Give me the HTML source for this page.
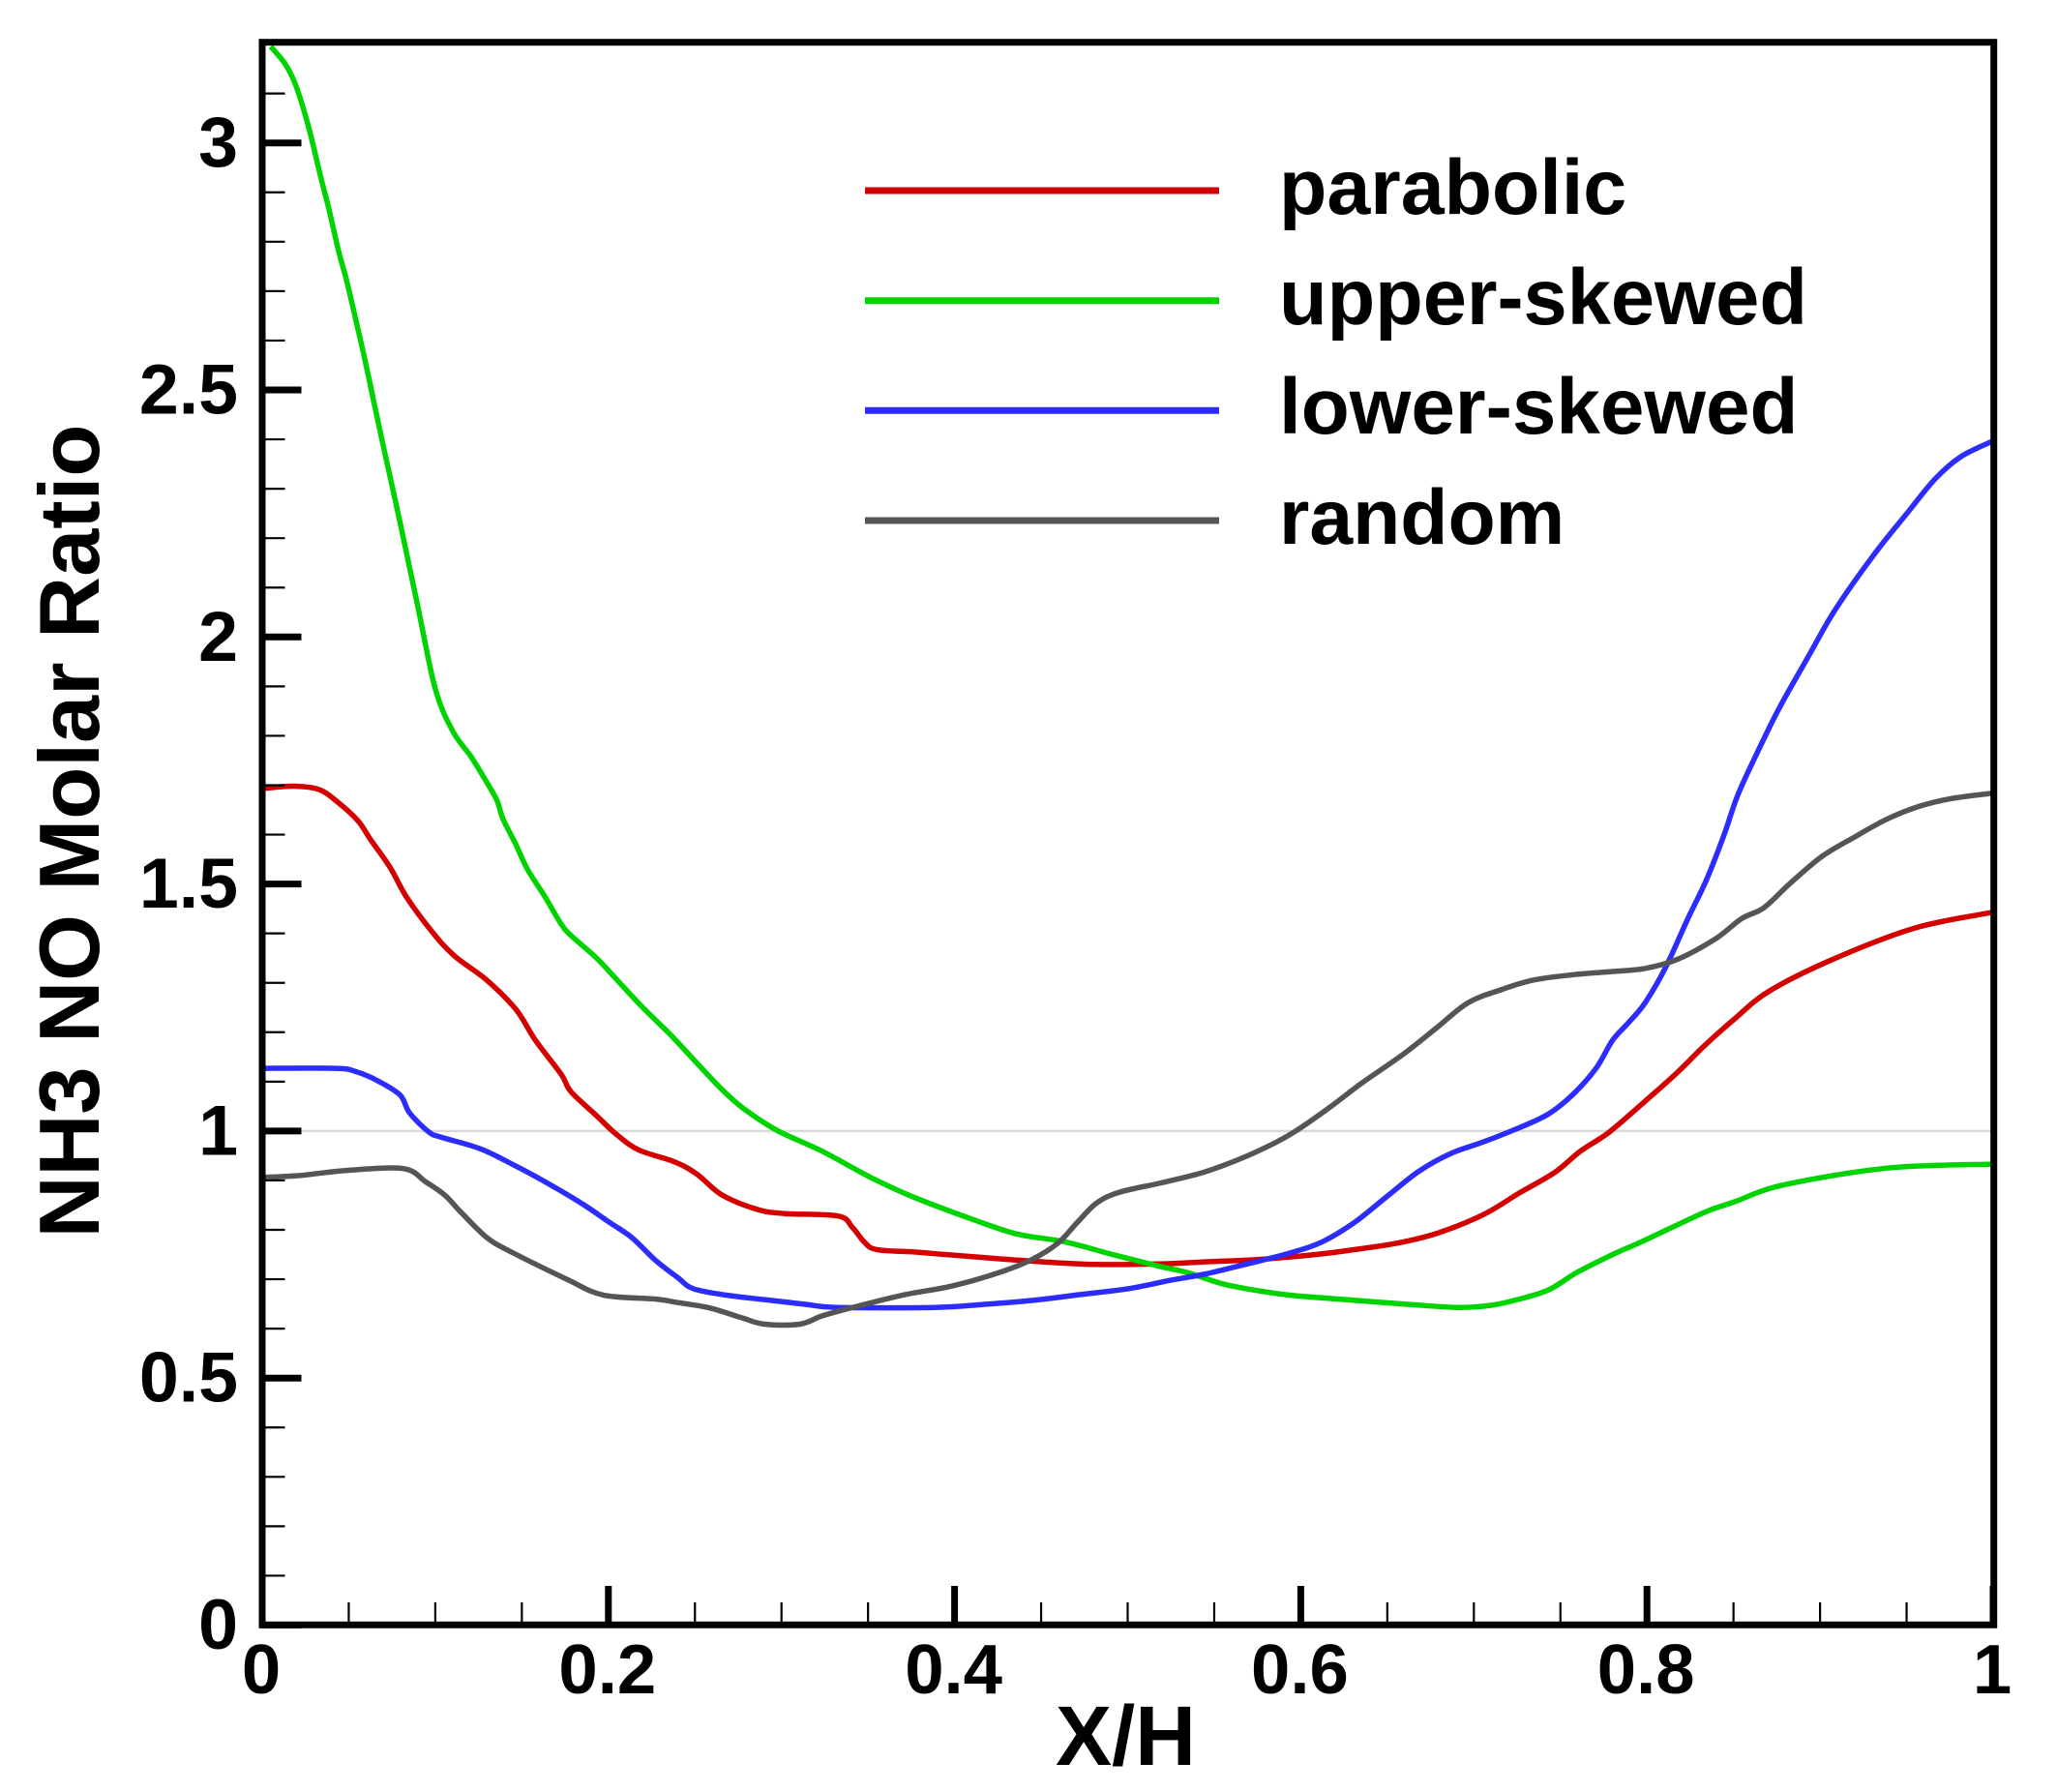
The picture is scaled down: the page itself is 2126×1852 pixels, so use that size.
<!DOCTYPE html>
<html lang="en">
<head>
<meta charset="utf-8">
<title>NH3 NO Molar Ratio vs X/H</title>
<style>
  html, body { margin: 0; padding: 0; background: #ffffff; }
  body { width: 2126px; height: 1852px; overflow: hidden; }
  svg { display: block; }
  text { font-family: "Liberation Sans", Arial, sans-serif; font-weight: bold; fill: #000000; }
</style>
</head>
<body>
<svg id="chart" xmlns="http://www.w3.org/2000/svg" width="2126" height="1852" viewBox="0 0 2126 1852">
  <rect x="0" y="0" width="2126" height="1852" fill="#ffffff"></rect>
  <g id="reference"></g>
  <g id="series"></g>
  <g id="ticks"></g>
  <rect x="271" y="43.7" width="1789.7" height="1635.6" fill="none" stroke="#000000" stroke-width="7"></rect>
  <g id="tick-labels"></g>
  <text x="1163.5" y="1824" font-size="87" text-anchor="middle">X/H</text>
  <text x="102" y="859" font-size="88.5" text-anchor="middle" transform="rotate(-90 102 859)">NH3 NO Molar Ratio</text>
  <g>
    <line x1="894" x2="1260" y1="197" y2="197" stroke="#d40000" stroke-width="7"></line>
    <text x="1322" y="221" font-size="80.8">parabolic</text>
    <line x1="894" x2="1260" y1="310.7" y2="310.7" stroke="#00d400" stroke-width="7"></line>
    <text x="1322" y="335" font-size="81.2">upper-skewed</text>
    <line x1="894" x2="1260" y1="424.3" y2="424.3" stroke="#2c2cff" stroke-width="7"></line>
    <text x="1322" y="448" font-size="81.8">lower-skewed</text>
    <line x1="894" x2="1260" y1="538" y2="538" stroke="#555555" stroke-width="7"></line>
    <text x="1322" y="562" font-size="80.5">random</text>
  </g>
</svg>
<script>
const xTickLabels = ["0", "0.2", "0.4", "0.6", "0.8", "1"];
const yTickLabels = ["0", "0.5", "1", "1.5", "2", "2.5", "3"];
const xMajorValues = [0, 0.2, 0.4, 0.6, 0.8, 1];
const yMajorValues = [0, 0.5, 1, 1.5, 2, 2.5, 3];
const xMinorValues = [0.05, 0.1, 0.15, 0.25, 0.3, 0.35, 0.45, 0.5, 0.55, 0.65, 0.7, 0.75, 0.85, 0.9, 0.95];
const yMinorValues = [0.1, 0.2, 0.3, 0.4, 0.6, 0.7, 0.8, 0.9, 1.1, 1.2, 1.3, 1.4, 1.6, 1.7, 1.8, 1.9, 2.1, 2.2, 2.3, 2.4, 2.6, 2.7, 2.8, 2.9, 3.1];
const referenceValue = 1;

const parabolicX = [0, 0.0181, 0.033, 0.0442, 0.0553, 0.0628, 0.074, 0.0833, 0.0982, 0.1112, 0.1299, 0.1466, 0.1578, 0.1727, 0.1783, 0.1932, 0.2044, 0.2174, 0.238, 0.251, 0.2659, 0.2864, 0.302, 0.3327, 0.341, 0.3477, 0.355, 0.3775, 0.3945, 0.413, 0.4318, 0.452, 0.482, 0.5174, 0.5435, 0.575, 0.6087, 0.631, 0.657, 0.6796, 0.7056, 0.726, 0.7466, 0.7615, 0.7783, 0.7988, 0.818, 0.833, 0.85, 0.871, 0.909, 0.955, 1];
const parabolicY = [1.693, 1.698, 1.691, 1.664, 1.628, 1.589, 1.533, 1.474, 1.403, 1.354, 1.305, 1.246, 1.184, 1.115, 1.08, 1.031, 0.994, 0.962, 0.938, 0.913, 0.87, 0.841, 0.833, 0.828, 0.805, 0.776, 0.76, 0.755, 0.75, 0.745, 0.74, 0.735, 0.73, 0.731, 0.735, 0.74, 0.75, 0.76, 0.774, 0.794, 0.831, 0.874, 0.916, 0.959, 0.998, 1.06, 1.12, 1.172, 1.225, 1.284, 1.35, 1.411, 1.443];

const upperX = [0.005, 0.0134, 0.019, 0.0246, 0.0292, 0.0339, 0.0386, 0.0442, 0.0488, 0.0544, 0.0591, 0.0647, 0.07, 0.08, 0.09, 0.1, 0.11, 0.1206, 0.128, 0.1355, 0.1392, 0.1467, 0.1532, 0.1634, 0.1727, 0.1783, 0.1932, 0.2044, 0.2193, 0.2361, 0.251, 0.2659, 0.279, 0.2976, 0.3236, 0.3516, 0.3758, 0.4075, 0.4354, 0.4634, 0.4913, 0.5174, 0.534, 0.5546, 0.5733, 0.5957, 0.629, 0.6628, 0.6907, 0.7094, 0.7243, 0.7429, 0.7597, 0.7802, 0.7988, 0.833, 0.85, 0.879, 0.939, 1];
const upperY = [3.195, 3.159, 3.12, 3.06, 2.999, 2.93, 2.865, 2.78, 2.721, 2.637, 2.565, 2.473, 2.386, 2.226, 2.06, 1.895, 1.81, 1.758, 1.716, 1.67, 1.631, 1.579, 1.53, 1.474, 1.419, 1.396, 1.35, 1.308, 1.252, 1.194, 1.138, 1.083, 1.043, 1.001, 0.959, 0.906, 0.867, 0.825, 0.792, 0.776, 0.75, 0.727, 0.714, 0.691, 0.678, 0.667, 0.658, 0.649, 0.643, 0.647, 0.658, 0.678, 0.714, 0.75, 0.779, 0.835, 0.856, 0.891, 0.925, 0.933];

const lowerX = [0, 0.0423, 0.0535, 0.0665, 0.0796, 0.0851, 0.0963, 0.1038, 0.1261, 0.1466, 0.1671, 0.1857, 0.2007, 0.2137, 0.227, 0.2398, 0.249, 0.2677, 0.2919, 0.3143, 0.3327, 0.3886, 0.4166, 0.4447, 0.4727, 0.5007, 0.5249, 0.5454, 0.5678, 0.5937, 0.6125, 0.631, 0.6496, 0.6684, 0.687, 0.7056, 0.7243, 0.7429, 0.7578, 0.7708, 0.7802, 0.7895, 0.7988, 0.8106, 0.8239, 0.8342, 0.8444, 0.8528, 0.8658, 0.877, 0.8938, 0.9087, 0.931, 0.9497, 0.9665, 0.9814, 1];
const lowerY = [1.127, 1.127, 1.121, 1.102, 1.073, 1.037, 0.998, 0.987, 0.964, 0.929, 0.89, 0.851, 0.815, 0.784, 0.739, 0.704, 0.681, 0.668, 0.658, 0.649, 0.643, 0.643, 0.649, 0.657, 0.669, 0.681, 0.698, 0.711, 0.73, 0.753, 0.776, 0.815, 0.867, 0.919, 0.955, 0.978, 1.004, 1.034, 1.076, 1.128, 1.184, 1.22, 1.259, 1.33, 1.432, 1.507, 1.598, 1.683, 1.781, 1.86, 1.964, 2.055, 2.166, 2.248, 2.32, 2.365, 2.397];

const randomX = [0, 0.0218, 0.0479, 0.0814, 0.0945, 0.1056, 0.115, 0.1299, 0.144, 0.176, 0.197, 0.227, 0.2398, 0.2584, 0.277, 0.2901, 0.3106, 0.3236, 0.3423, 0.3702, 0.3982, 0.4262, 0.4447, 0.4597, 0.4709, 0.482, 0.4951, 0.5193, 0.5435, 0.5659, 0.5845, 0.5975, 0.6164, 0.6348, 0.659, 0.6778, 0.6963, 0.7149, 0.7336, 0.7561, 0.7802, 0.7988, 0.818, 0.84, 0.8547, 0.8676, 0.8826, 0.9012, 0.9199, 0.9385, 0.9571, 0.9758, 1];
const randomY = [0.906, 0.91, 0.92, 0.924, 0.897, 0.87, 0.835, 0.784, 0.755, 0.7, 0.668, 0.66, 0.653, 0.642, 0.622, 0.609, 0.609, 0.626, 0.644, 0.668, 0.686, 0.714, 0.74, 0.773, 0.815, 0.854, 0.876, 0.895, 0.916, 0.945, 0.975, 1.001, 1.047, 1.096, 1.155, 1.207, 1.259, 1.285, 1.305, 1.316, 1.323, 1.329, 1.348, 1.39, 1.43, 1.452, 1.501, 1.556, 1.595, 1.631, 1.657, 1.673, 1.684];

const SVG_NS = "http://www.w3.org/2000/svg";
function xScale(v) { return 271 + 1789 * v; }
function yScale(v) { return 1679.5 - 510.6 * v; }
function make(tag, parent) {
  const el = document.createElementNS(SVG_NS, tag);
  document.getElementById(parent).appendChild(el);
  return el;
}

function smoothPath(xs, ys) {
  const px = xs.map(xScale);
  const py = ys.map(yScale);
  let d = "M" + px[0].toFixed(1) + " " + py[0].toFixed(1);
  for (let i = 0; i < px.length - 1; i++) {
    const a = Math.max(i - 1, 0);
    const b = Math.min(i + 2, px.length - 1);
    const c1x = px[i] + (px[i + 1] - px[a]) / 6;
    const c1y = py[i] + (py[i + 1] - py[a]) / 6;
    const c2x = px[i + 1] - (px[b] - px[i]) / 6;
    const c2y = py[i + 1] - (py[b] - py[i]) / 6;
    d += " C" + c1x.toFixed(1) + " " + c1y.toFixed(1) + " " + c2x.toFixed(1) + " " + c2y.toFixed(1) + " " + px[i + 1].toFixed(1) + " " + py[i + 1].toFixed(1);
  }
  return d;
}

function drawLine(xs, ys, color, name) {
  const el = make("path", "series");
  
  
  el.setAttribute("d", smoothPath(xs, ys));
  el.setAttribute("fill", "none");
  el.setAttribute("stroke", color);
  el.setAttribute("stroke-width", "5.5");
  el.setAttribute("stroke-linejoin", "round");
}

function drawXTick(v, top, width, name) {
  const el = make("line", "ticks");
  
  
  el.setAttribute("x1", xScale(v));
  el.setAttribute("x2", xScale(v));
  el.setAttribute("y1", top);
  el.setAttribute("y2", 1679);
  el.setAttribute("stroke", "#000000");
  el.setAttribute("stroke-width", width);
}

function drawYTick(v, right, width, name) {
  const el = make("line", "ticks");
  
  
  el.setAttribute("x1", 271);
  el.setAttribute("x2", right);
  el.setAttribute("y1", yScale(v));
  el.setAttribute("y2", yScale(v));
  el.setAttribute("stroke", "#000000");
  el.setAttribute("stroke-width", width);
}

const refLine = make("line", "reference");


refLine.setAttribute("x1", xScale(0));
refLine.setAttribute("x2", xScale(1));
refLine.setAttribute("y1", yScale(referenceValue));
refLine.setAttribute("y2", yScale(referenceValue));
refLine.setAttribute("stroke", "#d8d8d8");
refLine.setAttribute("stroke-width", "2.5");

drawLine(parabolicX, parabolicY, "#d40000", "series-parabolic");
drawLine(upperX, upperY, "#00d400", "series-upper-skewed");
drawLine(lowerX, lowerY, "#2c2cff", "series-lower-skewed");
drawLine(randomX, randomY, "#555555", "series-random");

xMajorValues.forEach(function (v) { drawXTick(v, 1639, 7, "x-major-tick"); });
xMinorValues.forEach(function (v) { drawXTick(v, 1656, 2.2, "x-minor-tick"); });
yMajorValues.forEach(function (v) { drawYTick(v, 311.5, 7, "y-major-tick"); });
yMinorValues.forEach(function (v) { drawYTick(v, 294.5, 2.2, "y-minor-tick"); });

xMajorValues.forEach(function (v, i) {
  const t = make("text", "tick-labels");
  
  
  t.setAttribute("x", xScale(v) - 1);
  t.setAttribute("y", 1750);
  t.setAttribute("font-size", "72.5");
  t.setAttribute("text-anchor", "middle");
  t.textContent = xTickLabels[i];
});

yMajorValues.forEach(function (v, i) {
  const t = make("text", "tick-labels");
  
  
  t.setAttribute("x", 246);
  t.setAttribute("y", yScale(v) + 24.5);
  t.setAttribute("font-size", "73.5");
  t.setAttribute("text-anchor", "end");
  t.textContent = yTickLabels[i];
});
</script>
</body>
</html>
